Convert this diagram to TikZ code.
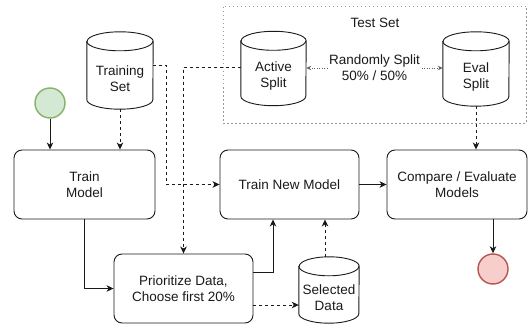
\documentclass[tikz,border=0pt]{standalone}
\usepackage{fontspec}
\setmainfont{Liberation Sans}
\usetikzlibrary{arrows.meta}
\definecolor{greenfill}{HTML}{D5E8D4}
\definecolor{greenline}{HTML}{82B366}
\definecolor{redfill}{HTML}{F8CECC}
\definecolor{redline}{HTML}{B85450}
\definecolor{ink}{HTML}{1A1A1A}
\tikzset{
  x=1pt, y=1pt,
  txt/.style={font=\fontsize{13.5}{16}\selectfont, text=ink, align=center, inner sep=0pt},
  procbox/.style={txt, draw=ink, line width=0.9pt, rounded corners=8pt, fill=white},
  cylline/.style={draw=ink, line width=0.9pt, fill=white},
  arr/.style={draw=ink, line width=0.9pt, -{Stealth[length=7pt,width=6.5pt,inset=2pt]}},
  darr/.style={arr, dashed},
  dotarr/.style={draw=ink!70, line width=0.8pt, dash pattern=on 1pt off 1.5pt, {Stealth[open,length=5pt,width=4.5pt]}-{Stealth[open,length=5pt,width=4.5pt]}},
  startstop/.style={circle, minimum size=30pt, inner sep=0pt, line width=1.4pt},
}
\newcommand{\mycyl}[6]{%
  \node[minimum width=#4pt, minimum height=#5pt, inner sep=0pt, draw=none] (#1) at (#2,#3) {};
  \path[cylline] ([yshift=-9.5pt]#1.north west) -- ([yshift=9.5pt]#1.south west)
     arc[start angle=180, end angle=360, x radius=#4pt/2, y radius=9.5pt]
     -- ([yshift=-9.5pt]#1.north east)
     arc[start angle=0, end angle=180, x radius=#4pt/2, y radius=9.5pt] -- cycle;
  \draw[draw=ink, line width=0.9pt] ([yshift=-9.5pt]#1.north west)
     arc[start angle=180, end angle=360, x radius=#4pt/2, y radius=9.5pt];
  \node[txt] (#1-t) at ([yshift=-8pt]#1.center) {#6};
}
\begin{document}
\begin{tikzpicture}
\useasboundingbox (0,0) rectangle (532,-326);

% test set frame
\node[draw=ink!45, line width=0.8pt, dash pattern=on 1.5pt off 2.5pt, minimum width=303pt, minimum height=117pt, inner sep=0pt] (tset) at (374.5,-64.5) {};
\node[txt] (tsetl) at (375,-23) {Test Set};

% process boxes
\node[procbox, minimum width=141pt, minimum height=69pt] (tm) at (84.5,-184.5) {Train\\Model};
\node[procbox, minimum width=139pt, minimum height=69pt] (tnm) at (289.5,-184.5) {Train New Model};
\node[procbox, minimum width=140pt, minimum height=69pt] (cmp) at (457,-184.5) {Compare / Evaluate\\Models};
\node[procbox, minimum width=139pt, minimum height=69pt] (pr) at (183.5,-288.5) {Prioritize Data,\\Choose first 20\%};

% start / end
\node[startstop, draw=greenline, fill=greenfill] (start) at (50,-103) {};
\node[startstop, draw=redline, fill=redfill] (end) at (493,-269) {};

% cylinders
\mycyl{ts}{120}{-70.5}{66}{77}{Training\\Set}
\mycyl{as}{273.5}{-68.5}{65}{74}{Active\\Split}
\mycyl{es}{476}{-69}{66}{74}{Eval\\Split}
\mycyl{sd}{329}{-290}{60}{66}{Selected\\Data}

% connectors
\draw[arr] (start) -- (start |- tm.north);
\draw[darr] (ts) ++(0,-38.5) -- (ts |- tm.north);
\draw[darr] ([yshift=5.5pt]ts.east) -- ++(13,0) |- (tnm.west);
\draw[darr] ([yshift=1.5pt]as.west) -| (pr.north);
\draw[dotarr] ([yshift=0.5pt]as.east) -- ([yshift=0.5pt]as.east -| es.west)
   node[txt, midway, fill=white, inner sep=1pt] (rs) {Randomly Split\\50\% / 50\%};
\draw[darr] (es.south) -- (es.south |- cmp.north);
\draw[arr] (tnm.east) -- (cmp.west);
\draw[arr] (end |- cmp.south) -- (end);
\draw[arr] (tm.south) |- (pr.west);
\draw[arr] ([yshift=16.5pt]pr.east) -| ([xshift=-16.5pt]tnm.south);
\draw[darr] ([yshift=-16.5pt]pr.east) -- ([yshift=-16.5pt]pr.east -| sd.west);
\draw[darr] ([xshift=-4pt]sd.north) -- ([xshift=-4pt]sd.north |- tnm.south);
\end{tikzpicture}
\end{document}
